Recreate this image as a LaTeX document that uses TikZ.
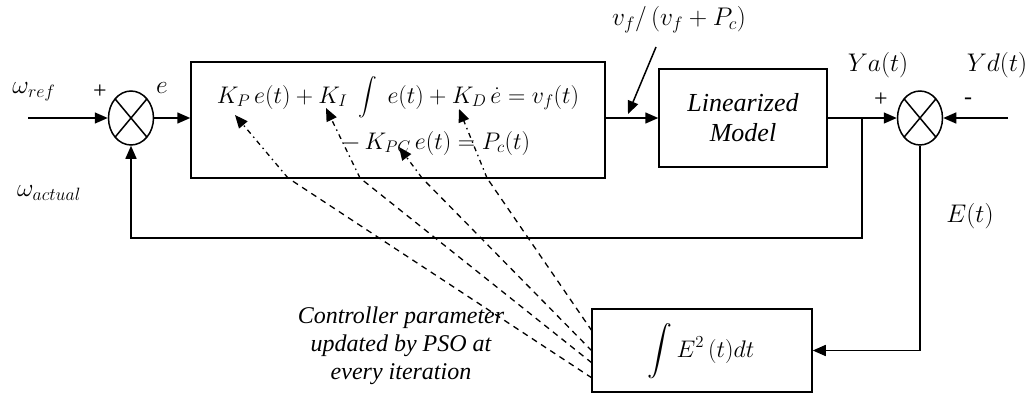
\RequirePackage{fix-cm}
\documentclass[tikz,border=0pt]{standalone}
\usepackage{amsmath}
\usepackage{fontspec}
\usepackage{graphicx}
\setmainfont{Liberation Serif}
\usetikzlibrary{arrows.meta,shapes.geometric,calc}

\tikzset{
  wire/.style={line width=1.5pt},
  sig/.style={wire,-{Triangle[length=13pt,width=11pt]}},
  blk/.style={draw,line width=1.5pt,rectangle,inner sep=0pt},
  sumj/.style={draw,line width=1.5pt,ellipse,minimum width=45pt,minimum height=54pt,inner sep=0pt},
  mth/.style={font=\fontsize{24}{28}\selectfont,inner sep=0pt},
  lbl/.style={font=\fontsize{25.5}{29}\selectfont,inner sep=0pt},
  txt/.style={font=\fontsize{24}{28}\selectfont\itshape,align=center,inner sep=0pt},
  sgn/.style={font=\fontsize{24}{24}\selectfont,inner sep=0pt},
  tunehead/.style={line width=1.3pt,dash pattern=on 5pt off 4pt on 1.5pt off 4pt,
                   -{Triangle[length=13pt,width=11pt]}},
  tunetail/.style={line width=1.3pt,dash pattern=on 6pt off 5pt},
}
\newcommand{\midint}{\mathop{\vcenter{\hbox{\scalebox{0.75}{$\displaystyle\int$}}}}}

\begin{document}
\begin{tikzpicture}[x=1pt,y=-1pt]
\useasboundingbox (0,0) rectangle (1032,394);

% blocks
\node[blk,minimum width=414pt,minimum height=116pt] (ctrl) at (398,120) {};
\node[blk,minimum width=168pt,minimum height=98pt,txt,font=\fontsize{26}{30}\selectfont\itshape] (model) at (743,118) {Linearized\\Model};
\node[blk,minimum width=220pt,minimum height=83pt] (cost) at (702,350.5) {};
\node[mth] (costtxt) at (701,351) {$\displaystyle\int E^2\,(t)dt$};

% controller equations
\node[mth] (eq1) at (398,97) {$K_P\,e(t) + K_I\;\midint\;e(t) + K_D\,\dot e = v_f(t)$};
\node[mth] (eq2) at (436,143) {$-\,K_{PC}\,e(t) = P_c(t)$};

% summing junctions
\node[sumj] (s1) at (131,118) {};
\node[sumj] (s2) at (920,118) {};
\foreach \s in {s1,s2}{
  \draw[wire] ($(\s)+(-15.9,-19.1)$) -- ($(\s)+(15.9,19.1)$);
  \draw[wire] ($(\s)+(-15.9,19.1)$) -- ($(\s)+(15.9,-19.1)$);
}

% signal labels
\node[lbl] (wref) at (34,92) {$\omega_{ref}$};
\node[sgn] (p1) at (100,92) {+};
\node[lbl] (elbl) at (162,88) {$e$};
\node[lbl] (wact) at (49,193) {$\omega_{actual}$};
\node[lbl] (ya) at (878,65) {$Ya(t)$};
\node[lbl] (yd) at (997,65) {$Yd(t)$};
\node[sgn] (p2) at (881,100) {+};
\node[sgn] (m2) at (968,101) {-};
\node[lbl] (et) at (970,216) {$E(t)$};
\node[lbl] (ratio) at (679,20) {$v_f/\,(v_f+P_c)$};
\node[txt] (note) at (401,346) {Controller parameter\\updated by PSO at\\every iteration};

% main signal path
\coordinate (in) at (28,118);
\coordinate (ydin) at (1008,118);
\coordinate (br) at (862,118);
\draw[sig] (in) -- (s1.west);
\draw[sig] (s1.east) -- (s1.east -| ctrl.west);
\draw[sig] (s1.east -| ctrl.east) -- (s1.east -| model.west);
\draw[sig] (s2.west -| model.east) -- (s2.west);
\draw[sig] (ydin) -- (s2.east);
\draw[sig] (br) -- (862,238) -| (s1.south);
\draw[sig] (s2.south) |- (cost.east);

% pointer to the plant input
\coordinate (rs) at (656,47);
\coordinate (re) at (628,114);
\draw[sig] (rs) -- (re);

% tuning links from the optimiser to the gains
\coordinate (c1) at (592,378); \coordinate (b1) at (288,178); \coordinate (t1) at (235,115);
\coordinate (c2) at (592,363); \coordinate (b2) at (360,178); \coordinate (t2) at (326,108);
\coordinate (c3) at (592,351); \coordinate (b3) at (422,178); \coordinate (t3) at (399,147);
\coordinate (c4) at (592,331); \coordinate (b4) at (487,178); \coordinate (t4) at (459,109);
\foreach \i in {1,2,3,4}{
  \draw[tunetail] (c\i) -- (b\i);
  \draw[tunehead] (b\i) -- (t\i);
}
\end{tikzpicture}
\end{document}
